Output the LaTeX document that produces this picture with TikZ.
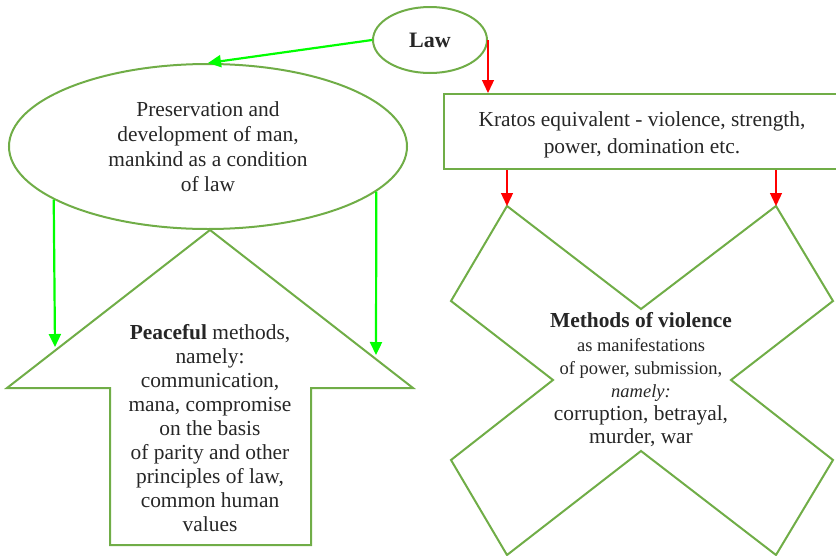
\documentclass[tikz,border=0pt]{standalone}
\usepackage{fontspec}
\setmainfont{Liberation Serif}
\usetikzlibrary{arrows.meta,shapes.geometric}
\definecolor{olg}{HTML}{70AD47}
\definecolor{txt}{HTML}{262626}
\definecolor{brgreen}{RGB}{0,255,0}
\newcommand{\sml}{\fontsize{18.5}{23}\selectfont}
\begin{document}
\begin{tikzpicture}[x=1pt,y=-1pt,
  shapeline/.style={draw=olg,line width=2pt},
  garrow/.style={draw=brgreen,line width=2.2pt,-{Triangle[length=13pt,width=12pt]}},
  rarrow/.style={draw=red,line width=1.3pt,-{Triangle[length=13pt,width=12pt]}},
  txtstyle/.style={text=txt,font=\fontsize{21.4}{25}\selectfont,align=center,inner sep=0pt}]
\useasboundingbox (0,0) rectangle (836,555);

% Law
\node[ellipse,shapeline,minimum width=114pt,minimum height=66pt,txtstyle,
      font=\bfseries\fontsize{22}{25}\selectfont] (law) at (430,40) {\raisebox{-3pt}{Law}};

% Preservation ellipse
\node[ellipse,shapeline,minimum width=398pt,minimum height=165pt,txtstyle] (pe) at (208,146.5)
  {Preservation and\\development of man,\\mankind as a condition\\of law};

% Kratos box (extends past the right edge of the picture)
\node[rectangle,shapeline,minimum width=470pt,minimum height=75pt] (kb) at (679,131.5) {};
\node[txtstyle,font=\fontsize{21.4}{27}\selectfont] (kbt) at (642,134.5)
  {Kratos equivalent - violence, strength,\\power, domination etc.};

% Up arrow shape
\coordinate (uaT) at (210,230);
\coordinate (uaR) at (413,388);
\coordinate (uaRi) at (311,388);
\coordinate (uaRb) at (311,545);
\coordinate (uaLb) at (110,545);
\coordinate (uaLi) at (110,388);
\coordinate (uaL) at (7,388);
\draw[shapeline] (uaT) -- (uaR) -- (uaRi) -- (uaRb) -- (uaLb) -- (uaLi) -- (uaL) -- cycle;
\node[txtstyle,font=\fontsize{21.4}{24}\selectfont] (pm) at (210,428)
  {\textbf{Peaceful} methods,\\namely:\\communication,\\mana, compromise\\on the basis\\of parity and other\\principles of law,\\common human\\values};

% Cross shape
\coordinate (xTL) at (507,206);
\coordinate (xTC) at (641,309);
\coordinate (xTR) at (776,206);
\coordinate (xRU) at (833,301);
\coordinate (xRC) at (731,380);
\coordinate (xRL) at (833,460);
\coordinate (xBR) at (776,555);
\coordinate (xBC) at (641,451);
\coordinate (xBL) at (507,555);
\coordinate (xLL) at (451,460);
\coordinate (xLC) at (553,380);
\coordinate (xLU) at (451,301);
\draw[shapeline] (xTL) -- (xTC) -- (xTR) -- (xRU) -- (xRC) -- (xRL) -- (xBR) -- (xBC)
  -- (xBL) -- (xLL) -- (xLC) -- (xLU) -- cycle;
\node[txtstyle,font=\fontsize{21.4}{23.2}\selectfont] (mv) at (641,380)
  {\textbf{Methods of violence}\\{\sml as manifestations}\\{\sml of power, submission,}\\{\sml\itshape namely:}\\corruption, betrayal,\\murder, war};

% Connectors
\coordinate (gL) at (55,347);
\coordinate (gR) at (376,355);
\draw[garrow] (law.west) -- (pe.north);
\draw[garrow] (pe.199.04) -- (gL);
\draw[garrow] (pe.345.26) -- (gR);
\draw[rarrow] (law.east) -- (law.east |- kb.north);
\draw[rarrow] (kb.south -| xTL) -- (xTL);
\draw[rarrow] (kb.south -| xTR) -- (xTR);
\end{tikzpicture}
\end{document}
